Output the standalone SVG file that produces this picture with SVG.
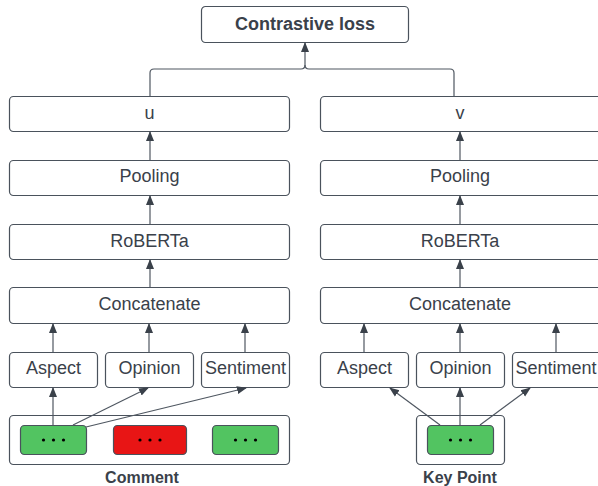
<svg xmlns="http://www.w3.org/2000/svg" width="598" height="486" viewBox="0 0 598 486">
<defs>
<marker id="ah" markerWidth="10" markerHeight="10" viewBox="0 0 10 10" refX="9" refY="5" orient="auto" markerUnits="userSpaceOnUse">
<path d="M0,1 L10,5 L0,9 Z" fill="#3a414a"/>
</marker>
<style>
.box{fill:#ffffff;stroke:#4a525c;stroke-width:1.2}
.t{font-family:"Liberation Sans",Arial,sans-serif;font-size:18px;fill:#3a414a;text-anchor:middle}
.b{font-weight:bold}
.l{font-family:"Liberation Sans",Arial,sans-serif;font-size:16px;font-weight:bold;fill:#3a414a;text-anchor:middle}
.c{fill:none;stroke:#4f5761;stroke-width:1.2}
.ca{fill:none;stroke:#4f5761;stroke-width:1.2;marker-end:url(#ah)}
.g{fill:#52c461;stroke:#4a525c;stroke-width:1.2}
.r{fill:#e81515;stroke:#4a525c;stroke-width:1.2}
.d{fill:#000}
</style>
</defs>
<g id="contrastive-loss"><rect class="box" x="201.5" y="6.5" width="207" height="36" rx="4"/><text class="t b" x="305" y="30">Contrastive loss</text></g>
<g id="u"><rect class="box" x="9.5" y="96.5" width="280" height="35" rx="4"/><text class="t" x="149.5" y="119">u</text></g>
<g id="v"><rect class="box" x="320.5" y="96.5" width="282" height="35" rx="4"/><text class="t" x="460" y="119">v</text></g>
<g id="pooling-l"><rect class="box" x="9.5" y="160.5" width="280" height="35" rx="4"/><text class="t" x="149.5" y="182">Pooling</text></g>
<g id="pooling-r"><rect class="box" x="320.5" y="160.5" width="282" height="35" rx="4"/><text class="t" x="460" y="182">Pooling</text></g>
<g id="roberta-l"><rect class="box" x="9.5" y="224.5" width="280" height="35" rx="4"/><text class="t" x="149.5" y="247">RoBERTa</text></g>
<g id="roberta-r"><rect class="box" x="320.5" y="224.5" width="282" height="35" rx="4"/><text class="t" x="460" y="247">RoBERTa</text></g>
<g id="concat-l"><rect class="box" x="9.5" y="287.5" width="280" height="36" rx="4"/><text class="t" x="149.5" y="310">Concatenate</text></g>
<g id="concat-r"><rect class="box" x="320.5" y="287.5" width="282" height="36" rx="4"/><text class="t" x="460" y="310">Concatenate</text></g>
<g id="aspect-l"><rect class="box" x="9.5" y="352.5" width="88" height="35" rx="4"/><text class="t" x="53.5" y="374">Aspect</text></g>
<g id="opinion-l"><rect class="box" x="105.5" y="352.5" width="88" height="35" rx="4"/><text class="t" x="149.5" y="374">Opinion</text></g>
<g id="sentiment-l"><rect class="box" x="201.5" y="352.5" width="88" height="35" rx="4"/><text class="t" x="245.5" y="374">Sentiment</text></g>
<g id="aspect-r"><rect class="box" x="320.5" y="352.5" width="88" height="35" rx="4"/><text class="t" x="364.5" y="374">Aspect</text></g>
<g id="opinion-r"><rect class="box" x="416.5" y="352.5" width="88" height="35" rx="4"/><text class="t" x="460.5" y="374">Opinion</text></g>
<g id="sentiment-r"><rect class="box" x="512.5" y="352.5" width="90" height="35" rx="4"/><text class="t" x="556" y="374">Sentiment</text></g>
<g id="comment"><rect class="box" x="9.5" y="415.5" width="280" height="49" rx="4"/>
<rect class="g" x="20.5" y="425.5" width="66" height="29" rx="4"/><circle class="d" cx="43.5" cy="440" r="1.6"/><circle class="d" cx="53.5" cy="440" r="1.6"/><circle class="d" cx="63.5" cy="440" r="1.6"/>
<rect class="r" x="113.5" y="425.5" width="73" height="29" rx="4"/><circle class="d" cx="140" cy="440" r="1.6"/><circle class="d" cx="150" cy="440" r="1.6"/><circle class="d" cx="160" cy="440" r="1.6"/>
<rect class="g" x="212.5" y="425.5" width="66" height="29" rx="4"/><circle class="d" cx="235.5" cy="440" r="1.6"/><circle class="d" cx="245.5" cy="440" r="1.6"/><circle class="d" cx="255.5" cy="440" r="1.6"/>
<text class="l" x="142" y="483">Comment</text></g>
<g id="key-point"><rect class="box" x="416.5" y="415.5" width="88" height="49" rx="4"/>
<rect class="g" x="427.5" y="425.5" width="66" height="29" rx="4"/><circle class="d" cx="450.5" cy="440" r="1.6"/><circle class="d" cx="460.5" cy="440" r="1.6"/><circle class="d" cx="470.5" cy="440" r="1.6"/>
<text class="l" x="460" y="483">Key Point</text></g>
<g id="connectors">
<path class="ca" d="M150 96 V73 Q150 69 154 69 H301 Q305 69 305 65 V43"/>
<path class="c" d="M454 96 V73 Q454 69 450 69 H309 Q305 69 305 65"/>
<path class="ca" d="M150 160 V132"/>
<path class="ca" d="M150 224 V196"/>
<path class="ca" d="M150 287 V260"/>
<path class="ca" d="M460 160 V132"/>
<path class="ca" d="M460 224 V196"/>
<path class="ca" d="M460 287 V260"/>
<path class="ca" d="M53 352 V324"/>
<path class="ca" d="M149 352 V324"/>
<path class="ca" d="M245 352 V324"/>
<path class="ca" d="M364 352 V324"/>
<path class="ca" d="M460 352 V324"/>
<path class="ca" d="M556 352 V324"/>
<path class="ca" d="M53 425 V388"/>
<path class="ca" d="M73 425 L148 388"/>
<path class="ca" d="M86 427 L246 388"/>
<path class="ca" d="M440 425 L390 388"/>
<path class="ca" d="M460 425 V388"/>
<path class="ca" d="M480 425 L530 388"/>
</g>
</svg>
